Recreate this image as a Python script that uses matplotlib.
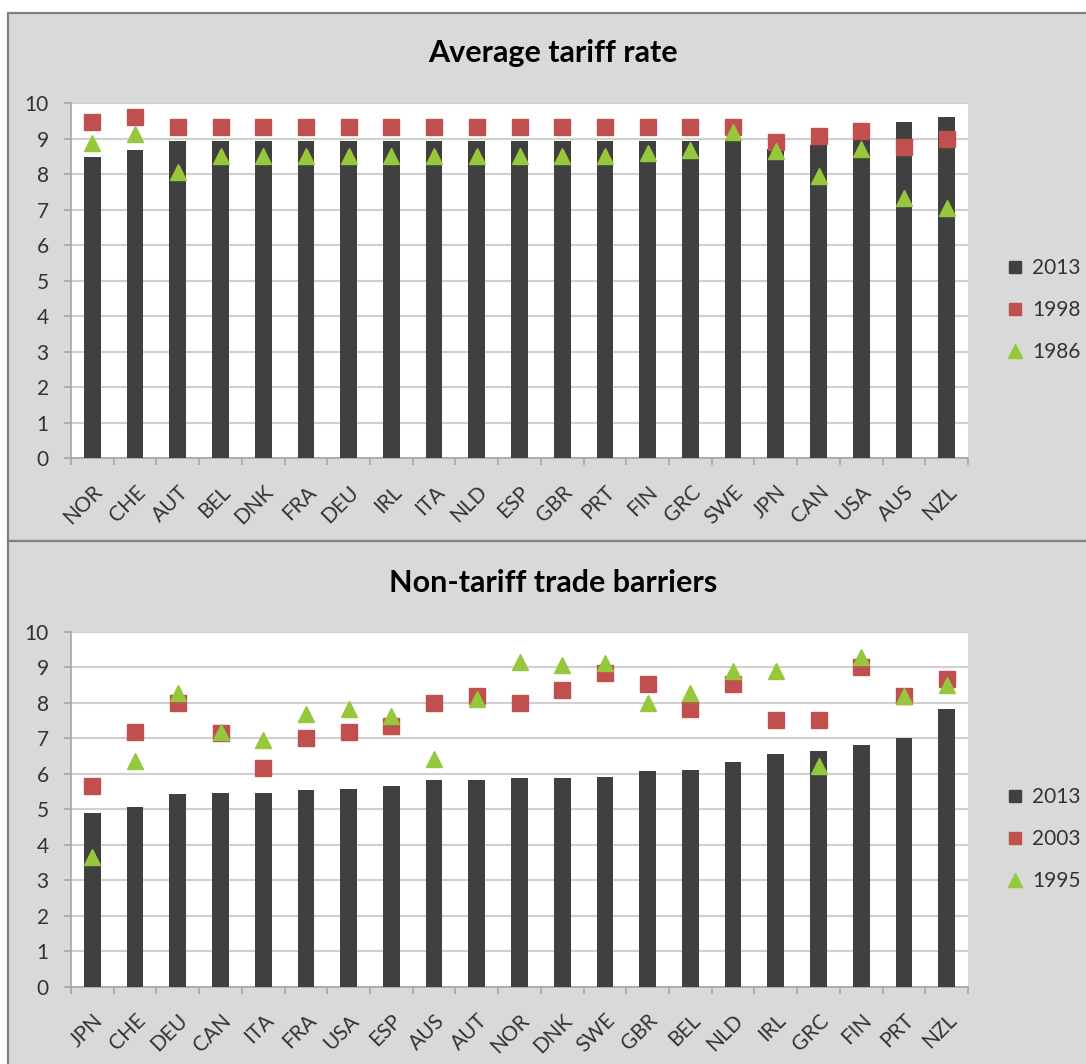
import matplotlib
matplotlib.use("Agg")
import matplotlib.pyplot as plt
from matplotlib.patches import Rectangle
from matplotlib.lines import Line2D

plt.rcParams['font.family'] = ['Lato', 'DejaVu Sans']

# Average tariff rate panel
tariff_countries = ["NOR", "CHE", "AUT", "BEL", "DNK", "FRA", "DEU", "IRL", "ITA", "NLD",
                    "ESP", "GBR", "PRT", "FIN", "GRC", "SWE", "JPN", "CAN", "USA", "AUS", "NZL"]
tariff_2013 = [8.49, 8.68, 8.94, 8.94, 8.94, 8.94, 8.94, 8.94, 8.94, 8.94,
               8.94, 8.94, 8.94, 8.94, 8.94, 8.96, 8.70, 8.82, 8.96, 9.47, 9.61]
tariff_1998 = [9.47, 9.60, 9.33, 9.33, 9.33, 9.33, 9.33, 9.33, 9.33, 9.33,
               9.33, 9.33, 9.33, 9.33, 9.33, 9.33, 8.90, 9.07, 9.20, 8.77, 9.00]
tariff_1986 = [8.87, 9.14, 8.07, 8.52, 8.52, 8.52, 8.52, 8.52, 8.52, 8.52,
               8.52, 8.52, 8.52, 8.58, 8.68, 9.17, 8.64, 7.95, 8.70, 7.32, 7.04]
tariff_years = ["2013", "1998", "1986"]

# Non-tariff trade barriers panel
ntb_countries = ["JPN", "CHE", "DEU", "CAN", "ITA", "FRA", "USA", "ESP", "AUS", "AUT",
                 "NOR", "DNK", "SWE", "GBR", "BEL", "NLD", "IRL", "GRC", "FIN", "PRT", "NZL"]
ntb_2013 = [4.90, 5.07, 5.44, 5.47, 5.47, 5.54, 5.58, 5.64, 5.83, 5.83,
            5.87, 5.87, 5.92, 6.07, 6.11, 6.32, 6.56, 6.63, 6.82, 7.00, 7.83]
ntb_2003 = [5.64, 7.17, 8.00, 7.16, 6.16, 7.00, 7.17, 7.33, 8.00, 8.19,
            8.00, 8.35, 8.84, 8.52, 7.81, 8.52, 7.50, 7.50, 9.00, 8.18, 8.68]
ntb_1995 = [3.65, 6.37, 8.26, 7.17, 6.96, 7.68, 7.81, 7.62, 6.41, 8.11,
            9.16, 9.06, 9.11, 8.00, 8.26, 8.90, 8.90, 6.21, 9.28, 8.19, 8.49]
ntb_years = ["2013", "2003", "1995"]

yticks = list(range(0, 11))

BAR = "#404040"
RED = "#c0504d"
GREEN = "#96c83c"
PANEL = "#d9d9d9"
GRID = "#d0d0d0"
TEXT = "#333333"

W, H = 1086, 1064
fig = plt.figure(figsize=(W / 100, H / 100), dpi=100, facecolor="white")


def fx(px):
    return px / W


def fy(py):
    return 1 - py / H


# panel backgrounds with borders
for top, bottom in [(13, 541), (541, 1075)]:
    fig.patches.append(Rectangle((fx(8), fy(bottom)), fx(1100) - fx(8), fy(top) - fy(bottom),
                                 transform=fig.transFigure, facecolor=PANEL,
                                 edgecolor="#808080", linewidth=1.6, zorder=-5))


def panel(ax_rect, title, title_y, cats, bars, squares, triangles, years, legend_y):
    ax = fig.add_axes(ax_rect, zorder=2)
    ax.set_facecolor("white")
    x = list(range(len(cats)))
    ax.bar(x, bars, width=0.39, color=BAR, zorder=3)
    ax.plot(x, squares, linestyle="none", marker="s", markersize=12.2,
            color=RED, markeredgecolor=RED, zorder=4)
    ax.plot(x, triangles, linestyle="none", marker="^", markersize=12,
            color=GREEN, markeredgecolor=GREEN, zorder=5)
    ax.set_xlim(-0.5, len(cats) - 0.5)
    ax.set_ylim(0, 10)
    ax.set_yticks(yticks)
    ax.set_yticklabels([str(v) for v in yticks])
    ax.yaxis.grid(True, color=GRID, linewidth=1.5, zorder=0)
    ax.set_axisbelow(True)
    for s in ("top", "right"):
        ax.spines[s].set_visible(False)
    for s in ("left", "bottom"):
        ax.spines[s].set_color("#a6a6a6")
        ax.spines[s].set_linewidth(1.2)
    ax.set_xticks(x)
    ax.set_xticklabels(cats, rotation=45, ha="right", rotation_mode="anchor",
                       fontsize=15, color=TEXT)
    ax.set_xticks([i - 0.5 for i in range(len(cats) + 1)], minor=True)
    ax.tick_params(axis="x", which="major", length=0, pad=17)
    ax.tick_params(axis="x", which="minor", length=5, width=1.2, color="#a6a6a6")
    ax.tick_params(axis="y", length=5, width=1.2, color="#a6a6a6", pad=11,
                   labelsize=15, labelcolor=TEXT)
    fig.text(fx(553), fy(title_y), title, ha="center", va="center",
             fontsize=22, fontweight="bold", color="black")
    handles = [
        Line2D([], [], linestyle="none", marker="s", markersize=9, color=BAR),
        Line2D([], [], linestyle="none", marker="s", markersize=9, color=RED),
        Line2D([], [], linestyle="none", marker="^", markersize=10, color=GREEN),
    ]
    leg = fig.legend(handles, years, loc="upper left",
                     bbox_to_anchor=(fx(996), fy(legend_y)), frameon=False,
                     fontsize=15, labelspacing=1.05, handlelength=0.8,
                     handletextpad=0.45, borderpad=0)
    for t in leg.get_texts():
        t.set_color(TEXT)
    return ax


panel([fx(71), fy(458.3), fx(968) - fx(71), fy(103) - fy(458.3)],
      "Average tariff rate", 53, tariff_countries,
      tariff_2013, tariff_1998, tariff_1986, tariff_years, 248)

panel([fx(71), fy(986.7), fx(968) - fx(71), fy(631.7) - fy(986.7)],
      "Non-tariff trade barriers", 583, ntb_countries,
      ntb_2013, ntb_2003, ntb_1995, ntb_years, 777)

fig.savefig("out.png", dpi=100, facecolor="white")
